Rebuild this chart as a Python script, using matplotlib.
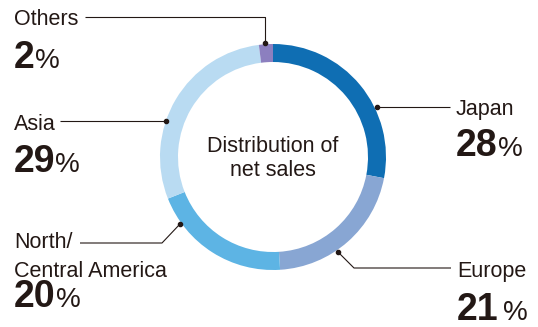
import matplotlib.pyplot as plt

plt.rcParams["font.family"] = ["Liberation Sans", "DejaVu Sans"]

# data
regions = ["Japan", "Europe", "North/\nCentral America", "Asia", "Others"]
shares = [28, 21, 20, 29, 2]
colors = ["#0f6eb3", "#88a6d3", "#5db4e4", "#b9dbf2", "#8c7fbf"]

TXT = "#231815"
W, H = 538, 327
CX, CY, R, RW = 273, 157, 113, 18


def fy(y):
    # pixel-from-top -> axis y
    return H - y


fig = plt.figure(figsize=(W / 100, H / 100), dpi=100)
ax = fig.add_axes([0, 0, 1, 1])
ax.pie(shares, colors=colors, startangle=90, counterclock=False,
       center=(CX, fy(CY)), radius=R,
       wedgeprops=dict(width=RW, linewidth=0))
ax.set_xlim(0, W)
ax.set_ylim(0, H)
ax.set_aspect("equal")
ax.axis("off")

ax.text(CX, fy(152), "Distribution of", ha="center", va="baseline",
        fontsize=15.5, color=TXT)
ax.text(CX, fy(176), "net sales", ha="center", va="baseline",
        fontsize=15.5, color=TXT)

# leader lines: (points from label side to the ring dot)
leaders = {
    "Others": [(85, 17), (265, 17), (265, 43)],
    "Japan": [(450, 107), (377, 107)],
    "Asia": [(60, 121), (166, 121)],
    "North/\nCentral America": [(80, 243), (162, 243), (180, 224)],
    "Europe": [(451, 268), (354, 268), (338, 252)],
}
# label layout: x, name baseline, percent baseline, gap before %
layout = {
    "Others": (14, 25, 68, 0),
    "Japan": (456, 115, 156, 0),
    "Asia": (14, 130, 172, 0),
    "North/\nCentral America": (14, 248, 307, 0),
    "Europe": (457, 277, 320, 4),
}

fig.canvas.draw()
renderer = fig.canvas.get_renderer()

for name, share in zip(regions, shares):
    pts = leaders[name]
    xs = [p[0] for p in pts]
    ys = [fy(p[1]) for p in pts]
    ax.plot(xs, ys, color=TXT, lw=0.8, solid_capstyle="butt")
    ax.plot(xs[-1], ys[-1], "o", color=TXT, ms=3)

    x, yb, yp, gap = layout[name]
    if "\n" in name:
        first, second = name.split("\n")
        ax.text(x, fy(yb), first, ha="left", va="baseline", fontsize=15.5, color=TXT)
        ax.text(x, fy(yb + 29), second, ha="left", va="baseline", fontsize=15.5, color=TXT)
    else:
        ax.text(x, fy(yb), name, ha="left", va="baseline", fontsize=15.5, color=TXT)
    num = ax.text(x, fy(yp), f"{share}", ha="left", va="baseline",
                  fontsize=27, fontweight="bold", color=TXT)
    bb = num.get_window_extent(renderer)
    x1 = ax.transData.inverted().transform((bb.x1, bb.y0))[0]
    ax.text(x1 + gap, fy(yp), "%", ha="left", va="baseline",
            fontsize=20, color=TXT)

fig.savefig("out.png", dpi=100)
